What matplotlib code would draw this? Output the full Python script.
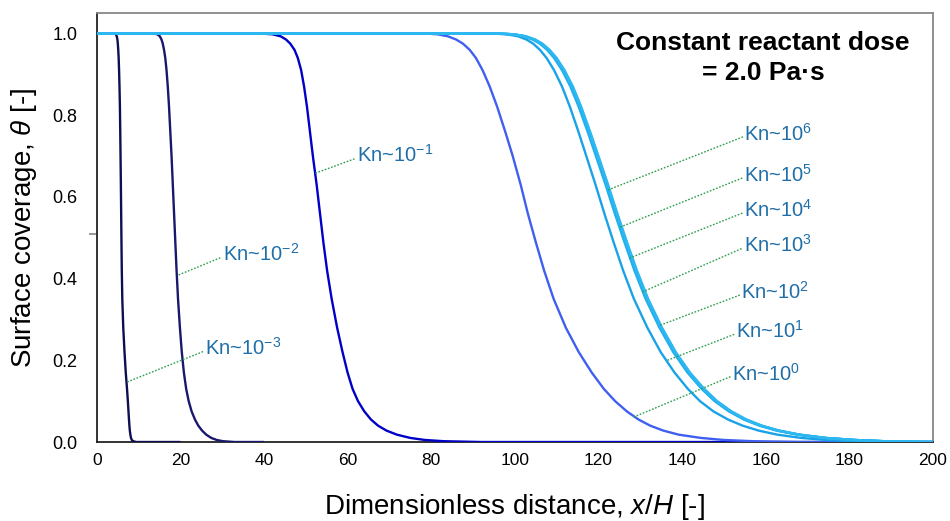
import matplotlib
matplotlib.use("Agg")
import matplotlib.pyplot as plt

plt.rcParams['font.family'] = ['Liberation Sans', 'DejaVu Sans']
plt.rcParams['mathtext.fontset'] = 'custom'
plt.rcParams['mathtext.rm'] = 'Liberation Sans'
plt.rcParams['mathtext.it'] = 'Liberation Sans:italic'

# surface coverage levels, and x/H where each curve reaches that level
theta = [1.0, 0.998, 0.993, 0.985, 0.975, 0.96, 0.94, 0.91, 0.87, 0.82, 0.76,
         0.7, 0.63, 0.56, 0.49, 0.42, 0.35, 0.28, 0.22, 0.17, 0.13,
         0.1, 0.075, 0.055, 0.04, 0.028, 0.018, 0.01, 0.005, 0.002, 0.0]

x_kn_m3 = [4.2, 4.55, 4.8, 4.95, 5.05, 5.15, 5.25, 5.35, 5.45, 5.55, 5.63,
           5.7, 5.78, 5.85, 5.92, 6.0, 6.12, 6.35, 6.65, 6.95, 7.25,
           7.45, 7.6, 7.72, 7.82, 7.92, 8.05, 8.2, 8.4, 8.7, 9.5]
x_kn_m2 = [13.5, 14.5, 15.1, 15.5, 15.8, 16.1, 16.4, 16.7, 17.0, 17.3, 17.6,
           17.9, 18.2, 18.5, 18.8, 19.1, 19.45, 19.9, 20.35, 20.85, 21.4,
           22.0, 22.7, 23.5, 24.3, 25.2, 26.2, 27.4, 28.7, 30.2, 33.0]
x_kn_m1 = [39.0, 42.0, 44.0, 45.3, 46.3, 47.3, 48.1, 48.9, 49.6, 50.3, 51.0,
           51.7, 52.6, 53.4, 54.2, 55.1, 56.2, 57.5, 58.8, 60.0, 61.2,
           62.5, 64.0, 65.6, 67.3, 69.3, 71.8, 75.0, 78.5, 83.0, 92.0]
x_kn_0 = [78.0, 81.5, 84.0, 86.0, 87.6, 89.2, 90.7, 92.3, 94.0, 95.8, 97.7,
          99.5, 101.4, 103.1, 105.0, 107.0, 109.3, 112.2, 115.3, 118.4, 121.3,
          124.0, 126.8, 129.6, 132.4, 135.5, 139.2, 144.5, 150.0, 157.0, 168.0]
x_kn_1 = [94.0, 98.0, 100.8, 102.8, 104.4, 106.0, 107.6, 109.4, 111.3, 113.2, 115.2,
          117.1, 119.3, 121.4, 123.6, 125.9, 128.5, 131.7, 134.9, 138.2, 141.4,
          144.3, 147.5, 151.0, 154.5, 158.3, 162.8, 168.5, 174.5, 181.0, 192.0]
x_kn_2 = [94.8, 99.3, 102.2, 104.3, 106.0, 107.7, 109.4, 111.3, 113.3, 115.3, 117.4,
          119.4, 121.7, 123.9, 126.2, 128.6, 131.3, 134.6, 137.9, 141.3, 144.7,
          147.8, 151.2, 154.8, 158.5, 162.6, 167.6, 173.8, 180.8, 187.8, 197.0]
x_kn_3 = [95.0, 99.5, 102.4, 104.5, 106.2, 107.9, 109.6, 111.5, 113.5, 115.5, 117.6,
          119.6, 121.9, 124.1, 126.4, 128.8, 131.5, 134.8, 138.1, 141.5, 144.9,
          148.0, 151.4, 155.0, 158.7, 162.8, 167.8, 174.0, 181.0, 188.0, 198.0]
x_kn_4 = [95.1, 99.6, 102.5, 104.6, 106.3, 108.0, 109.8, 111.7, 113.7, 115.7, 117.8,
          119.8, 122.1, 124.3, 126.6, 129.0, 131.7, 135.0, 138.3, 141.7, 145.1,
          148.2, 151.6, 155.2, 158.9, 163.0, 168.0, 174.2, 181.2, 188.2, 198.5]
x_kn_5 = [95.2, 99.7, 102.6, 104.8, 106.5, 108.2, 109.9, 111.8, 113.8, 115.8, 117.9,
          119.9, 122.2, 124.4, 126.7, 129.1, 131.8, 135.1, 138.4, 141.8, 145.2,
          148.3, 151.7, 155.3, 159.0, 163.1, 168.1, 174.3, 181.3, 188.3, 199.0]
x_kn_6 = [95.3, 99.8, 102.7, 104.9, 106.6, 108.3, 110.0, 111.9, 113.9, 115.9, 118.0,
          120.0, 122.3, 124.5, 126.8, 129.2, 131.9, 135.2, 138.5, 141.9, 145.3,
          148.4, 151.8, 155.4, 159.1, 163.2, 168.2, 174.4, 181.4, 188.4, 199.0]

curves = [x_kn_m3, x_kn_m2, x_kn_m1, x_kn_0, x_kn_1,
          x_kn_2, x_kn_3, x_kn_4, x_kn_5, x_kn_6]
x_end = [20, 40, 200, 200, 200, 200, 200, 200, 200, 200]
colors = ['#0E0E52', '#18186E', '#0000C8', '#3F5FF0', '#19A3E6',
          '#1FAEEC', '#22B2EE', '#25B4F0', '#2AB6F0', '#2EB8F2']

# Kn labels: exponent, point on curve, end of leader line
kn_exp = ['-3', '-2', '-1', '0', '1', '2', '3', '4', '5', '6']
lead_x0 = [7.3, 19.6, 52.3, 128.4, 136.5, 134.8, 130.5, 127.4, 125.2, 122.3]
lead_y0 = [0.147, 0.409, 0.658, 0.061, 0.200, 0.286, 0.367, 0.450, 0.526, 0.617]
lead_x1 = [25.6, 29.8, 61.9, 151.6, 152.6, 153.9, 154.6, 154.6, 154.6, 154.6]
lead_y1 = [0.222, 0.452, 0.694, 0.160, 0.264, 0.360, 0.475, 0.561, 0.647, 0.747]

fig = plt.figure(figsize=(9.5, 5.21), dpi=100)
ax = fig.add_axes([0.1018, 0.1516, 0.8802, 0.8234])

for xs, xe, c in zip(curves, x_end, colors):
    ax.plot([0] + xs + [xe], [1.0] + theta + [0.0], color=c, lw=1.7,
            solid_capstyle='butt', solid_joinstyle='round', zorder=3)

for e, x0, y0, x1, y1 in zip(kn_exp, lead_x0, lead_y0, lead_x1, lead_y1):
    ax.plot([x0, x1], [y0, y1], color='#2E9E4E', lw=1.0, ls=(0, (1.2, 1.2)), zorder=4)
    lab = 'Kn~10$^{\\mathregular{' + e.replace('-', '\u2212') + '}}$'
    ax.text(x1 + 0.3, y1 + 0.008, lab, color='#1F6EA8', fontsize=14.5,
            ha='left', va='center')

ax.text(159.4, 0.94, 'Constant reactant dose\n= 2.0 Pa\u00b7s', fontsize=19,
        fontweight='bold', ha='center', va='center', linespacing=1.3)

ax.set_xlim(0, 200)
ax.set_ylim(0, 1.05)
ax.set_xticks(range(0, 201, 20))
ax.set_yticks([0, 0.2, 0.4, 0.6, 0.8, 1.0])
ax.set_yticklabels(['0.0', '0.2', '0.4', '0.6', '0.8', '1.0'])
ax.set_yticks([0.51], minor=True)
ax.tick_params(axis='both', which='major', length=0)
ax.tick_params(axis='y', which='major', pad=14, labelsize=13)
ax.tick_params(axis='x', which='major', pad=8, labelsize=12.5)
ax.tick_params(axis='y', which='minor', length=6, width=1.2, color='#888888', pad=0)

for s in ['top', 'right']:
    ax.spines[s].set_color('#888888')
    ax.spines[s].set_linewidth(1.3)
for s in ['left', 'bottom']:
    ax.spines[s].set_color('#222222')
    ax.spines[s].set_linewidth(1.3)

ax.set_xlabel('Dimensionless distance, $\\mathit{x/H}$ [-]', fontsize=20)
ax.set_ylabel('Surface coverage, $\\mathit{\\theta}$ [-]', fontsize=20)
ax.xaxis.set_label_coords(0.5, -0.117)
ax.yaxis.set_label_coords(-0.069, 0.5)

fig.savefig('out.png', dpi=100)
